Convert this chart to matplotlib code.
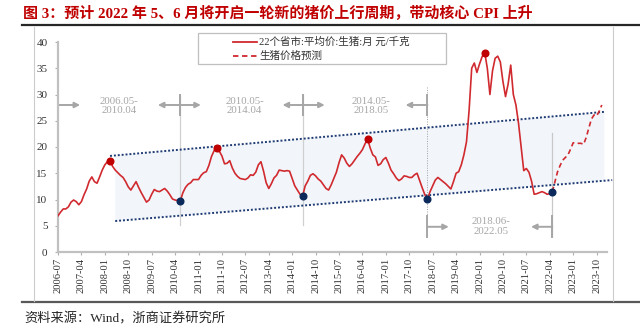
import numpy as np
import matplotlib
matplotlib.use('Agg')
import matplotlib.pyplot as plt
from matplotlib.lines import Line2D
from matplotlib.patches import Rectangle, Polygon

# ---------------- data ----------------
start_month = '2006-07'
# 22 provinces average live hog price, monthly, 2006-07 .. 2022-05 (yuan/kg)
price = [
    6.9, 7.6, 8.2, 8.2, 8.6, 9.5, 9.9, 9.6, 9.0, 9.6, 10.9, 12.0,          # 2006-07..2007-06
    13.5, 14.3, 13.4, 13.1, 14.3, 15.6, 16.6, 17.2, 17.4, 16.3, 15.6, 15.1,  # 2007-07..2008-06
    14.6, 14.2, 13.4, 12.4, 11.8, 12.6, 13.4, 12.3, 11.3, 10.4, 9.5, 9.9,    # 2008-07..2009-06
    11.0, 11.9, 11.6, 11.5, 11.8, 12.1, 11.6, 10.9, 10.1, 9.9, 9.8, 9.7,     # 2009-07..2010-06
    11.3, 12.3, 12.9, 13.2, 13.8, 13.8, 13.8, 14.6, 15.1, 15.3, 16.5, 18.2,  # 2010-07..2011-06
    19.3, 19.9, 19.2, 18.3, 16.8, 16.9, 17.4, 16.0, 15.0, 14.4, 14.0, 13.9,  # 2011-07..2012-06
    13.8, 14.1, 14.7, 14.6, 15.2, 16.6, 17.2, 15.4, 13.2, 12.1, 13.0, 14.1,  # 2012-07..2013-06
    14.6, 15.6, 15.5, 15.4, 15.5, 15.4, 14.0, 12.6, 11.8, 11.0, 10.6, 12.6,  # 2013-07..2014-06
    13.5, 14.6, 14.9, 14.5, 13.9, 13.5, 12.8, 12.1, 11.8, 12.8, 14.0, 15.2,  # 2014-07..2015-06
    17.0, 18.5, 17.9, 16.9, 16.3, 16.8, 17.5, 18.2, 18.8, 19.5, 20.6, 21.5,  # 2015-07..2016-06
    19.8, 18.5, 18.1, 16.5, 16.8, 17.6, 18.0, 16.9, 15.6, 14.9, 14.1, 13.6,  # 2016-07..2017-06
    13.9, 14.5, 14.4, 14.2, 14.2, 14.7, 15.0, 13.6, 12.2, 10.9, 10.1, 11.5,  # 2017-07..2018-06
    12.6, 13.7, 14.2, 13.8, 13.4, 13.0, 12.5, 12.0, 13.4, 15.0, 15.3, 16.6,  # 2018-07..2019-06
    18.5, 21.0, 27.0, 35.0, 36.0, 34.2, 35.8, 37.2, 38.0, 35.0, 30.0, 34.5,  # 2019-07..2020-06
    36.9, 37.3, 36.2, 32.5, 29.6, 32.0, 35.6, 30.0, 28.0, 24.5, 20.0, 15.5,  # 2020-07..2021-06
    15.9, 15.2, 13.5, 11.0, 11.1, 11.3, 11.5, 11.3, 11.0, 11.1, 11.5,        # 2021-07..2022-05
]
# forecast, 2022-05 .. 2023-12
forecast_start = '2022-05'
forecast = [11.5, 13.4, 15.3, 16.5, 17.5, 18.0, 18.5, 19.6, 20.8, 20.8,
            20.7, 20.7, 20.5, 21.8, 23.6, 25.3, 26.1, 25.9, 26.8, 28.0]

peak_months = ['2008-03', '2011-08', '2016-06', '2020-03']
trough_months = ['2010-06', '2014-05', '2018-05', '2022-05']

upper_trend_months = ['2008-03', '2024-01']
upper_trend_values = [18.3, 26.7]
lower_trend_months = ['2008-05', '2024-04']
lower_trend_values = [5.9, 13.7]
band_months = ['2008-05', '2024-01']

cycle_labels = ['2006.05-\n2010.04', '2010.05-\n2014.04',
                '2014.05-\n2018.05', '2018.06-\n2022.05']

tick_labels = ['2006-07', '2007-04', '2008-01', '2008-10', '2009-07', '2010-04',
               '2011-01', '2011-10', '2012-07', '2013-04', '2014-01', '2014-10',
               '2015-07', '2016-04', '2017-01', '2017-10', '2018-07', '2019-04',
               '2020-01', '2020-10', '2021-07', '2022-04', '2023-01', '2023-10']
y_ticks = [0, 5, 10, 15, 20, 25, 30, 35, 40]

legend_labels = ['22个省市:平均价:生猪:月 元/千克', '生猪价格预测']
title_text = '图 3：预计 2022 年 5、6 月将开启一轮新的猪价上行周期，带动核心 CPI 上升'
source_text = '资料来源：Wind，浙商证券研究所'


def midx(s):
    y, m = map(int, s.split('-'))
    y0, m0 = map(int, start_month.split('-'))
    return (y - y0) * 12 + (m - m0)


# ---------------- style ----------------
plt.rcParams['font.family'] = ['Liberation Serif', 'Noto Sans CJK SC']
plt.rcParams['axes.unicode_minus'] = False

W, H = 640, 331
fig = plt.figure(figsize=(6.4, 3.31), dpi=100)


def fx(px):
    return px / W


def fy(py):
    return 1 - py / H


ax = fig.add_axes([fx(58), fy(252), fx(607) - fx(58), fy(42) - fy(252)])

RED = '#d02a2f'
NAVY = '#1f3b73'
GRAY = '#a6a6a6'

x = np.arange(len(price))
ax.plot(x, price, color=RED, lw=1.2, zorder=4, solid_joinstyle='round')
xf = np.arange(len(forecast)) + midx(forecast_start)
ax.plot(xf, forecast, color=RED, lw=1.2, ls=(0, (3, 2)), zorder=4)

# trend band
ux = [midx(m) for m in upper_trend_months]
lx = [midx(m) for m in lower_trend_months]
bx0, bx1 = [midx(m) for m in band_months]
uslope = (upper_trend_values[1] - upper_trend_values[0]) / (ux[1] - ux[0])
lslope = (lower_trend_values[1] - lower_trend_values[0]) / (lx[1] - lx[0])
up = lambda t: upper_trend_values[0] + (t - ux[0]) * uslope
lo = lambda t: lower_trend_values[0] + (t - lx[0]) * lslope
band = Polygon([(bx0, up(bx0)), (bx1, up(bx1)), (bx1, lo(bx1)), (bx0, lo(bx0))],
               closed=True, facecolor='#f2f6fb', edgecolor='none', zorder=1)
ax.add_patch(band)
ax.plot(ux, upper_trend_values, color=NAVY, lw=1.4, ls=(0, (1, 1)), zorder=3, clip_on=False)
ax.plot(lx, lower_trend_values, color=NAVY, lw=1.4, ls=(0, (1, 1)), zorder=3, clip_on=False)

# markers
pk = [midx(m) for m in peak_months]
tr = [midx(m) for m in trough_months]
ax.plot(pk, [price[i] for i in pk], 'o', color='#c00000', ms=4.8, zorder=5, clip_on=False)
ax.plot(tr, [price[i] for i in tr], 'o', color='#0b2a5b', ms=4.8, zorder=5, clip_on=False)

# cycle dividers
for i, t in enumerate(tr):
    if i == 2:
        ax.plot([t, t], [31.4, 3.0], color='#a0a0a0', lw=0.7, ls=(0, (1, 1.5)), zorder=2, clip_on=False)
    elif i == 3:
        ax.plot([t, t], [22.7, 3.0], color='#c8c8c8', lw=0.9, zorder=2, clip_on=False)
    else:
        ax.plot([t, t], [29.9, 5.1], color='#d0d0d0', lw=0.9, zorder=2, clip_on=False)
    if i < 3:
        ax.plot([t, t], [29.9, 26.1], color=GRAY, lw=1.4, zorder=2)
    if i >= 2:
        ax.plot([t, t], [6.9, 2.9], color=GRAY, lw=1.4, zorder=2)


def arrow(x0, x1, y):
    ax.annotate('', xy=(x1, y), xytext=(x0, y),
                arrowprops=dict(arrowstyle='-|>', color=GRAY, lw=1.4,
                                mutation_scale=8, shrinkA=0, shrinkB=0),
                annotation_clip=False, zorder=2)


ya = 28.0
arrow(0, 8.5, ya)
arrow(tr[0], tr[0] - 8.6, ya)
arrow(tr[0], tr[0] + 7.9, ya)
arrow(tr[1], tr[1] - 7.7, ya)
arrow(tr[1], tr[1] + 8.5, ya)
arrow(tr[2], tr[2] - 8.4, ya)
yb = 4.8
arrow(tr[2], tr[2] + 8.2, yb)
arrow(tr[3], tr[3] - 8.2, yb)

lab_kw = dict(color=GRAY, fontsize=7.8, ha='center', va='center', linespacing=1.12,
              family='Liberation Serif')
ax.text(23.6, 27.8, cycle_labels[0], **lab_kw)
ax.text(71.7, 27.8, cycle_labels[1], **lab_kw)
ax.text(120.3, 27.8, cycle_labels[2], **lab_kw)
ax.text(166.5, 4.8, cycle_labels[3], **lab_kw)

# axes styling
ax.set_xlim(0, 211)
ax.set_ylim(0, 40)
ax.set_xticks(np.arange(len(tick_labels)) * 9)
ax.set_xticklabels(tick_labels, rotation=90)
ax.set_yticks(y_ticks)
ax.set_yticklabels([str(v) for v in y_ticks])
for s in ['top', 'right']:
    ax.spines[s].set_visible(False)
for s in ['left', 'bottom']:
    ax.spines[s].set_color('#c0c0c0')
    ax.spines[s].set_linewidth(1.6)
ax.tick_params(axis='y', direction='out', length=2.5, width=0.8, color='#b0b0b0',
               labelsize=8, labelcolor='#333333', pad=5)
ax.tick_params(axis='x', direction='out', length=2.5, width=0.8, color='#b0b0b0',
               labelsize=7.6, labelcolor='#333333', pad=1.5)
ax.set_facecolor('none')

# legend (drawn manually to match box placement)
fig.add_artist(Rectangle((fx(198), fy(64)), fx(446) - fx(198), fy(33) - fy(64),
                         transform=fig.transFigure, facecolor='white',
                         edgecolor='#bfbfbf', lw=0.9, zorder=10))
for j, (ls, yy) in enumerate([('-', 41.7), ((0, (3, 2)), 56.0)]):
    fig.add_artist(Line2D([fx(233), fx(257)], [fy(yy), fy(yy)], color=RED, lw=1.3,
                          ls=ls, transform=fig.transFigure, zorder=11))
    fig.text(fx(259), fy(yy), legend_labels[j], fontsize=7.6, va='center', ha='left',
             color='#333333', zorder=12)

# title, rules, frame, source
fig.text(fx(23), fy(13), title_text, fontsize=10.8, fontweight='bold', color='#c00000',
         va='center', ha='left')
fig.add_artist(Line2D([fx(22), fx(640)], [fy(25), fy(25)], color='#262626', lw=1.6,
                      transform=fig.transFigure))
fig.add_artist(Line2D([fx(22), fx(640)], [fy(302), fy(302)], color='#595959', lw=1.6,
                      transform=fig.transFigure))
for xx in (33.5, 613):
    fig.add_artist(Line2D([fx(xx), fx(xx)], [fy(27), fy(301)], color='#cccccc', lw=0.8,
                          transform=fig.transFigure))
fig.text(fx(24), fy(319), source_text, fontsize=9.5, color='#262626', va='center', ha='left')

fig.savefig('out.png', dpi=100)
